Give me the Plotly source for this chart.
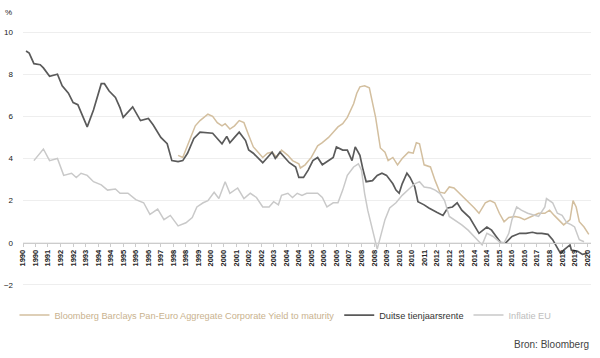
import plotly.graph_objects as go

# ---- data ----
german_dates = ["1990-03","1990-05","1990-08","1990-12","1991-02","1991-06","1991-11","1992-02","1992-06","1992-09","1992-12","1993-06","1993-10","1994-03","1994-05","1994-08","1994-12","1995-03","1995-05","1995-11","1996-04","1996-09","1996-12","1997-05","1997-09","1997-12","1998-04","1998-07","1998-10","1999-02","1999-06","1999-11","2000-02","2000-05","2000-08","2000-11","2001-01","2001-04","2001-07","2001-11","2002-01","2002-04","2002-10","2003-01","2003-04","2003-06","2003-09","2003-12","2004-03","2004-07","2004-09","2004-12","2005-03","2005-06","2005-09","2005-12","2006-04","2006-07","2006-09","2007-01","2007-04","2007-07","2007-09","2007-12","2008-02","2008-04","2008-08","2008-11","2009-02","2009-05","2009-09","2009-11","2010-01","2010-03","2010-06","2010-08","2010-11","2011-01","2011-05","2011-08","2012-01","2012-05","2012-08","2012-11","2013-02","2013-05","2013-10","2014-01","2014-04","2014-09","2014-12","2015-03","2015-06","2015-09","2016-01","2016-06","2016-10","2017-02","2017-05","2017-08","2017-12","2018-03","2018-06","2018-08","2018-10","2019-02","2019-03","2019-07","2019-10","2020-01"]
german_values = [9.1,9.0,8.5,8.45,8.3,7.9,8.0,7.45,7.1,6.65,6.55,5.5,6.3,7.55,7.55,7.2,6.9,6.4,5.95,6.45,5.8,5.9,5.6,5.0,4.7,3.9,3.85,3.9,4.25,4.95,5.25,5.2,5.2,4.95,4.7,5.05,4.75,5.0,5.25,4.85,4.4,4.25,3.8,4.05,4.3,4.0,4.3,4.05,3.8,3.6,3.1,3.1,3.45,3.9,4.05,3.7,3.9,4.05,4.55,4.4,4.4,3.9,4.55,4.15,3.45,2.9,2.95,3.2,3.3,3.2,2.8,2.5,2.35,2.8,3.3,3.1,2.65,1.95,1.8,1.65,1.45,1.3,1.65,1.7,1.9,1.55,1.2,0.85,0.45,0.75,0.6,0.3,0.0,0.0,0.3,0.45,0.45,0.5,0.45,0.45,0.4,0.15,-0.25,-0.5,-0.35,-0.1,-0.35,-0.4,-0.55,-0.5]

corp_dates = ["1998-04","1998-07","1998-12","1999-03","1999-06","1999-11","2000-02","2000-05","2000-08","2000-10","2001-01","2001-04","2001-07","2001-10","2002-01","2002-04","2002-10","2003-01","2003-04","2003-07","2003-10","2004-02","2004-05","2004-09","2004-10","2005-01","2005-05","2005-09","2005-12","2006-04","2006-07","2006-10","2007-01","2007-04","2007-08","2007-10","2007-12","2008-03","2008-06","2008-10","2009-01","2009-04","2009-06","2009-09","2009-12","2010-03","2010-07","2010-10","2010-12","2011-02","2011-05","2011-09","2011-12","2012-03","2012-06","2012-09","2012-12","2013-05","2013-09","2014-01","2014-04","2014-08","2014-11","2015-02","2015-05","2015-08","2015-11","2016-03","2016-06","2016-09","2016-12","2017-03","2017-06","2017-10","2018-01","2018-04","2018-07","2018-10","2019-02","2019-04","2019-06","2019-08","2019-11","2020-02"]
corp_values = [4.15,4.05,5.0,5.55,5.8,6.1,6.0,5.7,5.55,5.65,5.4,5.55,5.8,5.7,5.1,4.55,4.05,4.25,4.3,4.05,4.4,4.15,3.9,3.75,3.55,3.7,4.05,4.6,4.75,5.0,5.25,5.5,5.65,5.95,6.6,7.1,7.4,7.45,7.35,5.95,4.5,4.3,3.9,4.05,3.7,4.0,4.3,4.25,4.75,4.7,3.7,3.6,2.95,2.4,2.35,2.65,2.6,2.25,1.95,1.65,1.4,1.9,2.0,1.9,1.4,1.0,1.2,1.25,1.2,1.1,1.2,1.3,1.4,1.4,1.55,1.3,1.1,0.85,1.1,2.0,1.7,1.0,0.75,0.4]

infl_dates = ["1990-08","1991-02","1991-06","1991-11","1992-03","1992-08","1992-11","1993-02","1993-06","1993-10","1994-03","1994-07","1994-12","1995-03","1995-08","1996-01","1996-06","1996-10","1997-03","1997-07","1997-11","1998-04","1998-09","1999-01","1999-04","1999-08","1999-11","2000-03","2000-06","2000-10","2001-01","2001-06","2001-10","2002-02","2002-06","2002-10","2003-02","2003-05","2003-08","2003-10","2004-02","2004-05","2004-08","2004-11","2005-02","2005-09","2005-12","2006-03","2006-07","2006-10","2007-01","2007-04","2007-08","2007-11","2008-01","2008-03","2008-05","2008-11","2009-04","2009-07","2009-11","2010-03","2010-08","2010-11","2011-02","2011-05","2011-09","2011-12","2012-03","2012-06","2012-09","2012-12","2013-05","2013-09","2014-01","2014-06","2014-09","2015-01","2015-05","2015-08","2015-11","2016-01","2016-04","2016-07","2016-11","2017-03","2017-06","2017-10","2017-11","2018-03","2018-06","2018-09","2018-12","2019-03","2019-05","2019-08","2019-11"]
infl_values = [3.9,4.45,3.9,4.0,3.2,3.3,3.1,3.3,3.2,2.9,2.75,2.5,2.55,2.35,2.35,2.05,1.9,1.35,1.6,1.1,1.3,0.8,0.95,1.2,1.7,1.9,2.0,2.4,2.1,2.9,2.35,2.6,2.1,2.35,2.15,1.7,1.7,1.95,1.8,2.25,2.35,2.15,2.35,2.25,2.35,2.35,2.15,1.7,1.9,1.9,2.5,3.2,3.6,3.75,3.45,2.35,1.55,-0.3,1.1,1.65,1.9,2.25,2.6,2.8,2.9,2.65,2.6,2.5,2.35,2.0,1.25,1.1,0.85,0.6,0.3,-0.1,0.45,0.3,0.05,0.0,0.45,1.1,1.7,1.55,1.4,1.3,1.25,1.7,2.1,1.9,1.4,1.3,0.95,0.85,0.75,0.15,0.05]

y_ticks = [-2, 0, 2, 4, 6, 8, 10]
y_range = [-2.05, 10.05]

name_corp = "Bloomberg Barclays Pan-Euro Aggregate Corporate Yield to maturity"
name_german = "Duitse tienjaarsrente"
name_infl = "Inflatie EU"

col_corp = "#d3bf9f"
col_german = "#5a5a5a"
col_infl = "#c9c9c9"

FONT = "Liberation Sans, Arial, sans-serif"

fig = go.Figure()
fig.add_trace(go.Scatter(x=corp_dates, y=corp_values, mode="lines",
                         line=dict(color=col_corp, width=1.5),
                         name=f"<span style='color:#c9b28e'>{name_corp}</span>"))
fig.add_trace(go.Scatter(x=german_dates, y=german_values, mode="lines",
                         line=dict(color=col_german, width=1.7),
                         name=f"<span style='color:#333333'>{name_german}</span>"))
fig.add_trace(go.Scatter(x=infl_dates, y=infl_values, mode="lines",
                         line=dict(color=col_infl, width=1.5),
                         name=f"<span style='color:#bdbdbd'>{name_infl}</span>"))

zero_pos = (0 - y_range[0]) / (y_range[1] - y_range[0])

fig.update_layout(
    width=600, height=358,
    margin=dict(l=23, r=9, t=31, b=72),
    paper_bgcolor="white", plot_bgcolor="white",
    font=dict(family=FONT, size=8, color="#333333"),
    showlegend=True,
    legend=dict(orientation="h", x=-0.015, xanchor="left", y=-0.114, yanchor="middle",
                font=dict(size=9.2), bgcolor="rgba(0,0,0,0)", itemwidth=30),
    xaxis=dict(type="date", range=["1990-01-01", "2020-03-15"],
               tick0="1990-01-01", dtick="M8", tickformat="%Y", tickangle=-90,
               ticks="outside", ticklen=3, tickcolor="#cccccc",
               showline=True, linecolor="#cccccc", linewidth=1,
               showgrid=False, zeroline=False,
               anchor="free", position=zero_pos,
               tickfont=dict(size=7.5, color="#222222", weight="bold"), automargin=False),
    yaxis=dict(range=y_range, tickvals=y_ticks, showgrid=True, gridcolor="#eeeeee",
               gridwidth=1, zeroline=False, showline=False, ticks="",
               ticklabelstandoff=9, tickfont=dict(size=8, color="#222222"),
               automargin=False),
    annotations=[
        dict(text="%", xref="paper", yref="paper", x=-0.036, y=1.0745,
             xanchor="left", yanchor="middle", showarrow=False,
             font=dict(size=8, color="#222222")),
        dict(text="Bron: Bloomberg", xref="paper", yref="paper", x=1.0, y=-0.231,
             xanchor="right", yanchor="middle", showarrow=False,
             font=dict(size=10, color="#444444")),
    ],
)

fig.write_html("out.html", config={"displayModeBar": False},
               post_script="document.body.style.margin='0px';")
